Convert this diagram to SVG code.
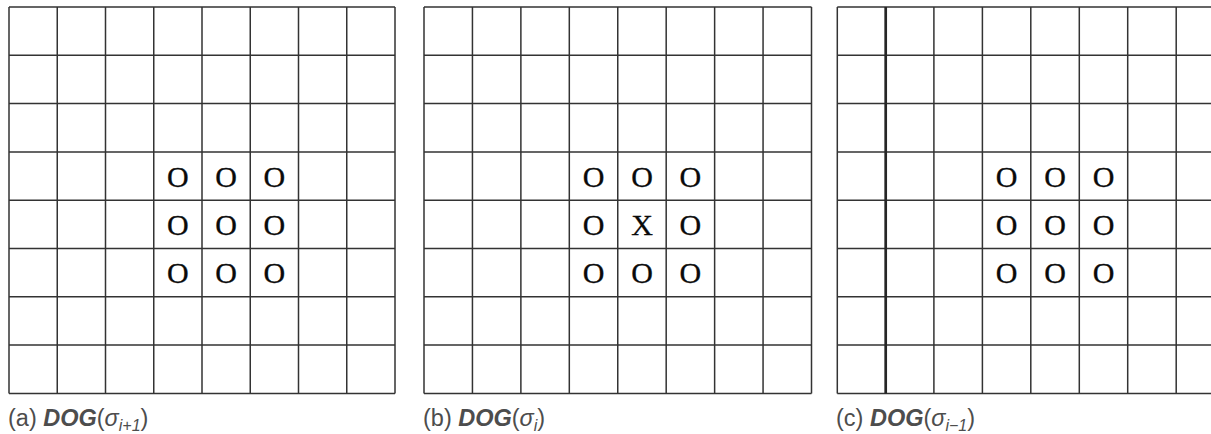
<svg xmlns="http://www.w3.org/2000/svg" width="1211" height="434" viewBox="0 0 1211 434">
<style>
.g{fill:none;stroke:#333;stroke-width:1.5}
.thick{fill:none;stroke:#262626;stroke-width:2.7}
.m{font-family:"Liberation Serif","DejaVu Serif",serif;font-size:30px;fill:#0a0a0a;text-anchor:middle;stroke:#0a0a0a;stroke-width:0.3}
.lbl{font-family:"Liberation Sans",Arial,sans-serif;font-size:23.5px;fill:#4d4d4d}
.bi{font-weight:bold;font-style:italic}
.it{font-style:italic}
.sub{font-style:italic;font-size:16px}
</style>
<rect width="1211" height="434" fill="#fff"/>
<g id="grid-a">
<path class="g" d="M9 7V393.4M57.25 7V393.4M105.5 7V393.4M153.75 7V393.4M202 7V393.4M250.25 7V393.4M298.5 7V393.4M346.75 7V393.4M395 7V393.4M9 7H395M9 55.3H395M9 103.6H395M9 151.9H395M9 200.2H395M9 248.5H395M9 296.8H395M9 345.1H395M9 393.4H395"/>
<text class="m" x="177.9" y="186.5">O</text><text class="m" x="226.1" y="186.5">O</text><text class="m" x="274.4" y="186.5">O</text>
<text class="m" x="177.9" y="234.8">O</text><text class="m" x="226.1" y="234.8">O</text><text class="m" x="274.4" y="234.8">O</text>
<text class="m" x="177.9" y="283.1">O</text><text class="m" x="226.1" y="283.1">O</text><text class="m" x="274.4" y="283.1">O</text>
<text class="lbl" x="8" y="426">(a) <tspan class="bi">DOG</tspan>(<tspan class="it">σ</tspan><tspan class="sub" dy="5">i+1</tspan><tspan dy="-5">)</tspan></text>
</g>
<g id="grid-b">
<path class="g" d="M424 7V393.4M472.44 7V393.4M520.88 7V393.4M569.31 7V393.4M617.75 7V393.4M666.19 7V393.4M714.63 7V393.4M763.06 7V393.4M811.5 7V393.4M424 7H811.5M424 55.3H811.5M424 103.6H811.5M424 151.9H811.5M424 200.2H811.5M424 248.5H811.5M424 296.8H811.5M424 345.1H811.5M424 393.4H811.5"/>
<text class="m" x="593.5" y="186.5">O</text><text class="m" x="642" y="186.5">O</text><text class="m" x="690.4" y="186.5">O</text>
<text class="m" x="593.5" y="234.8">O</text><text class="m" x="642" y="234.8">X</text><text class="m" x="690.4" y="234.8">O</text>
<text class="m" x="593.5" y="283.1">O</text><text class="m" x="642" y="283.1">O</text><text class="m" x="690.4" y="283.1">O</text>
<text class="lbl" x="423" y="426">(b) <tspan class="bi">DOG</tspan>(<tspan class="it">σ</tspan><tspan class="sub" dy="5">i</tspan><tspan dy="-5">)</tspan></text>
</g>
<g id="grid-c">
<path class="g" d="M837.3 7V393.4M933.9 7V393.4M982.4 7V393.4M1030.8 7V393.4M1079.3 7V393.4M1127.7 7V393.4M1176.2 7V393.4M837.3 7H1211M837.3 55.3H1211M837.3 103.6H1211M837.3 151.9H1211M837.3 200.2H1211M837.3 248.5H1211M837.3 296.8H1211M837.3 345.1H1211M837.3 393.4H1211"/>
<path class="thick" d="M885.7 7V393.4"/>
<text class="m" x="1006.6" y="186.5">O</text><text class="m" x="1055" y="186.5">O</text><text class="m" x="1103.5" y="186.5">O</text>
<text class="m" x="1006.6" y="234.8">O</text><text class="m" x="1055" y="234.8">O</text><text class="m" x="1103.5" y="234.8">O</text>
<text class="m" x="1006.6" y="283.1">O</text><text class="m" x="1055" y="283.1">O</text><text class="m" x="1103.5" y="283.1">O</text>
<text class="lbl" x="836" y="426">(c) <tspan class="bi">DOG</tspan>(<tspan class="it">σ</tspan><tspan class="sub" dy="5">i−1</tspan><tspan dy="-5">)</tspan></text>
</g>
<g id="connectors"/>
</svg>
